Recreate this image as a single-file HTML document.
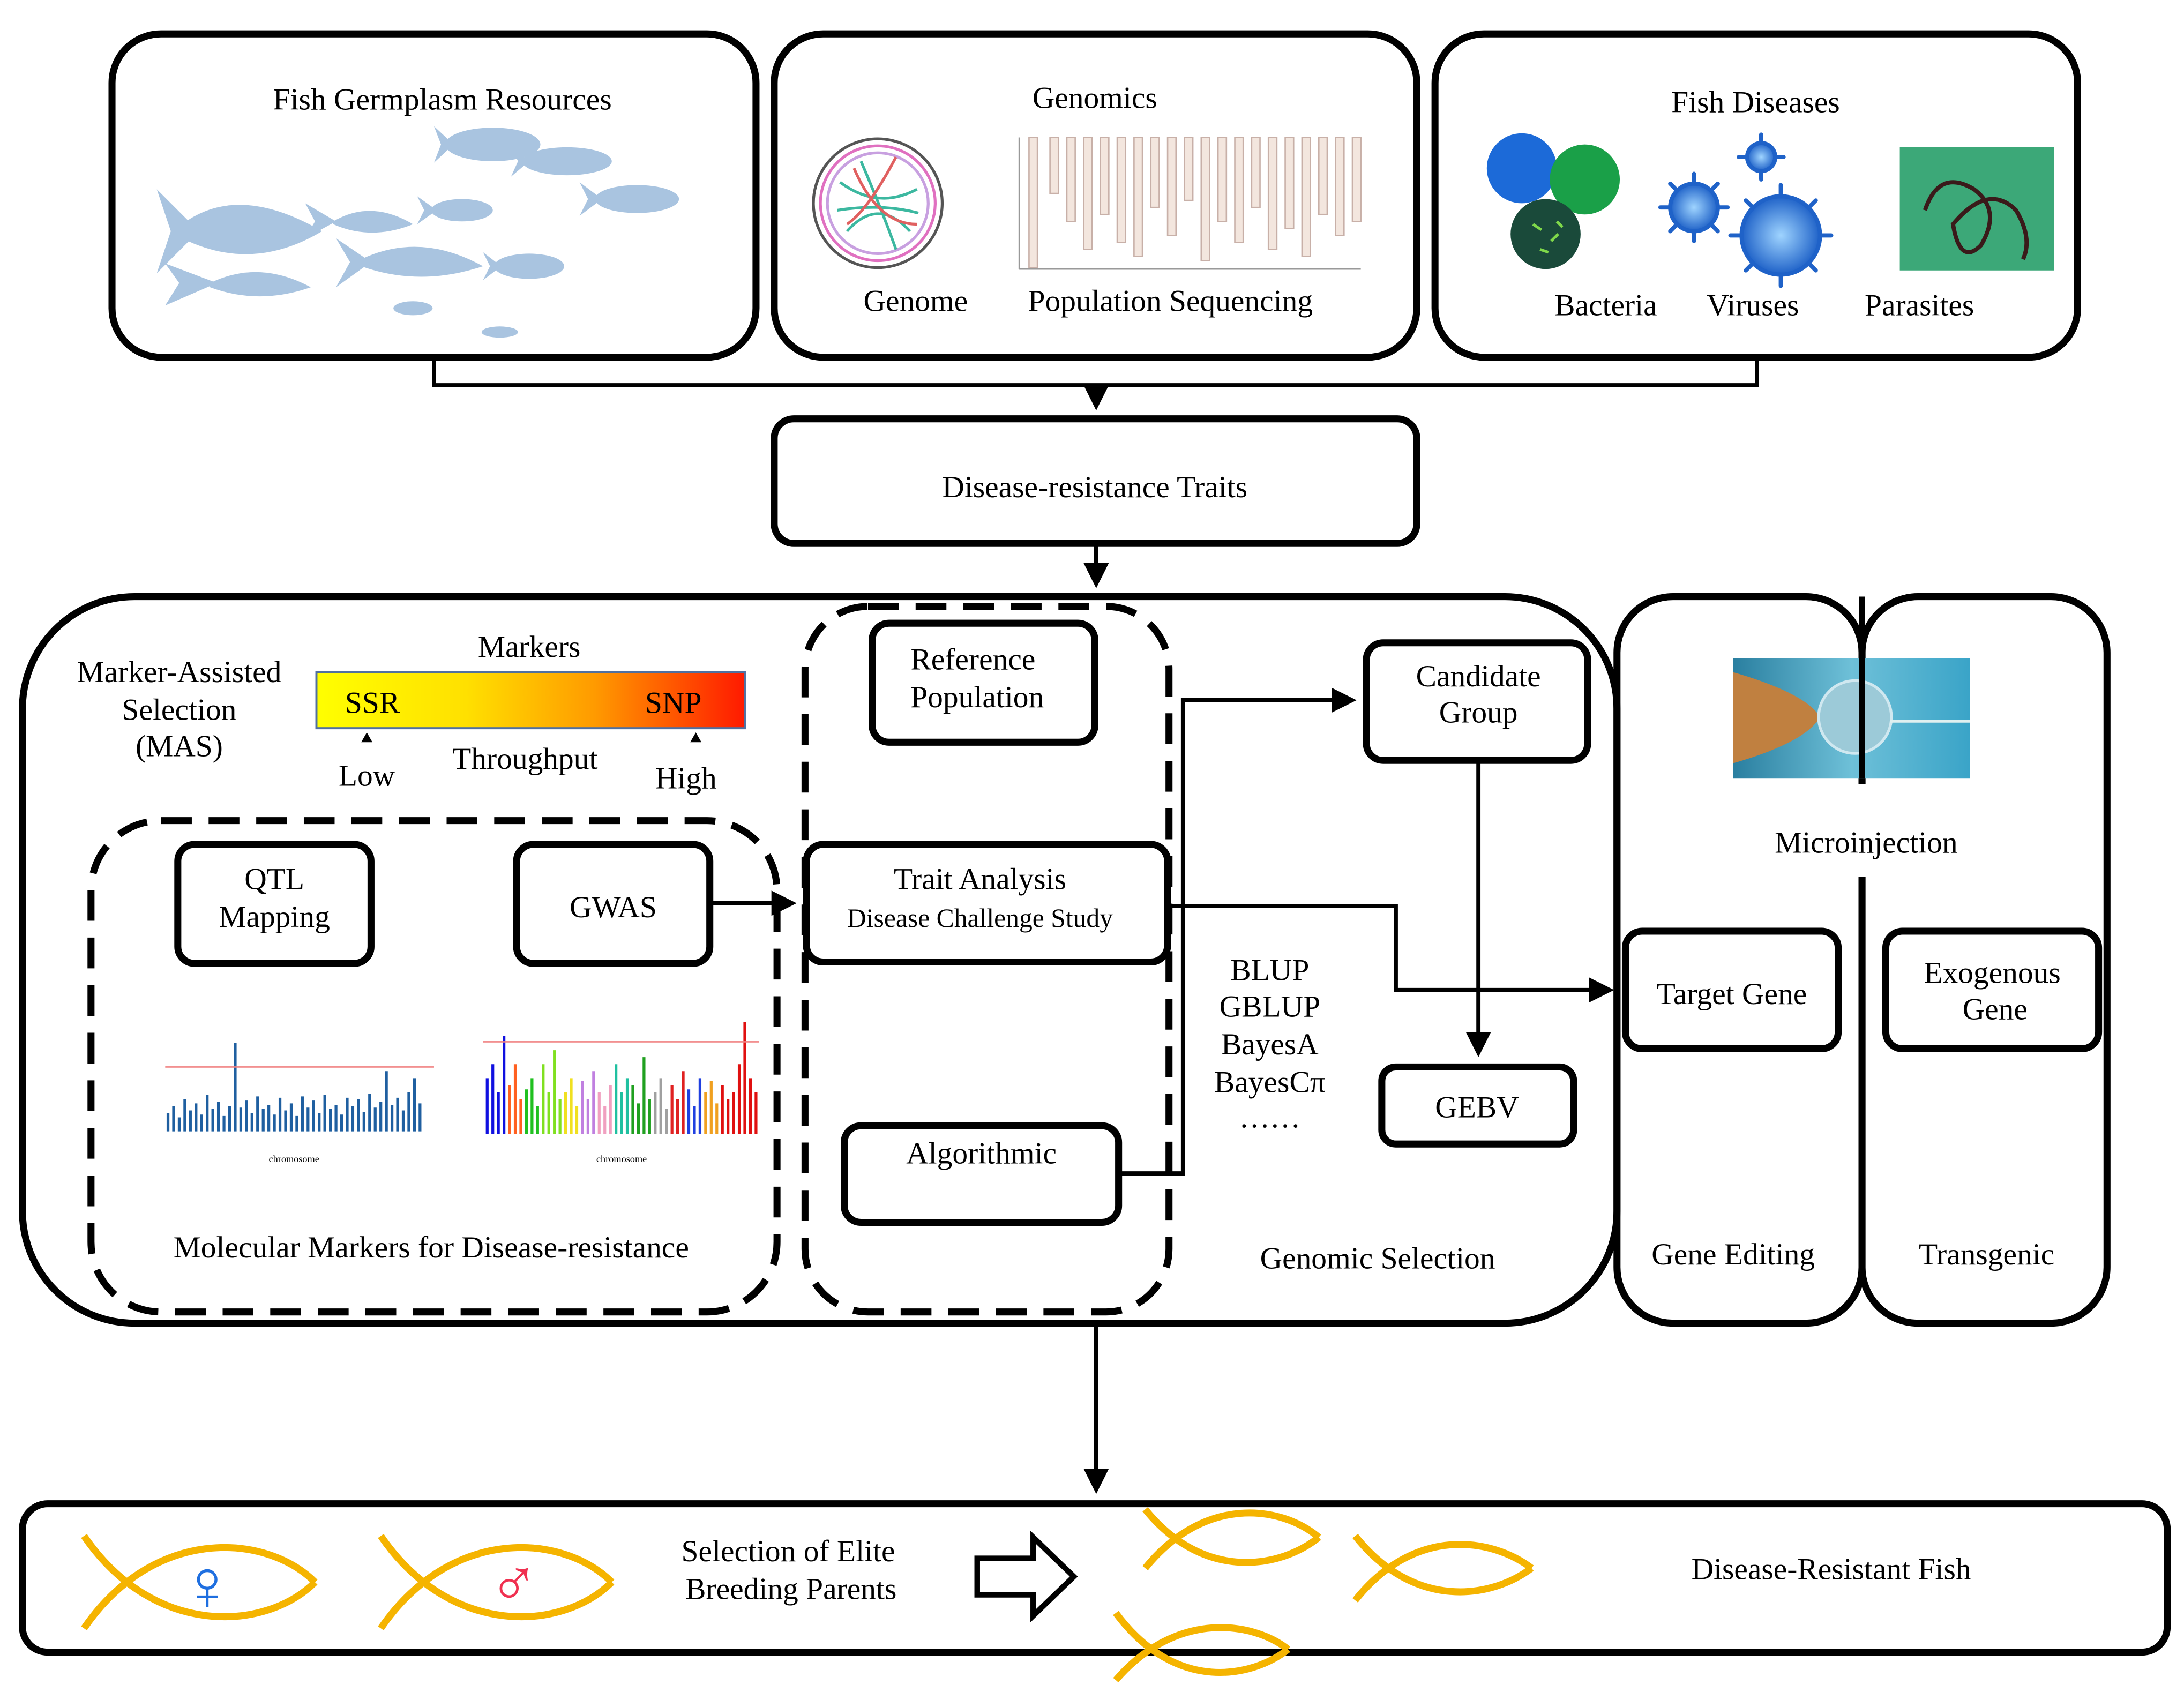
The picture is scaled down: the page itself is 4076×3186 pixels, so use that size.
<!DOCTYPE html>
<html><head><meta charset="utf-8">
<style>
html,body{margin:0;padding:0;background:#fff;}
svg{display:block;font-family:"Liberation Serif","DejaVu Serif",serif;}
text{font-family:"Liberation Serif","DejaVu Serif",serif;fill:#000;}
</style></head><body>
<svg width="4076" height="3186" viewBox="0 0 1560 1219" xmlns="http://www.w3.org/2000/svg" font-family="Liberation Serif, DejaVu Serif, serif">
<defs>
<linearGradient id="mk" x1="0" x2="1" y1="0" y2="0">
<stop offset="0" stop-color="#ffff00"/><stop offset="0.35" stop-color="#ffe000"/><stop offset="0.65" stop-color="#ff9a00"/><stop offset="1" stop-color="#ff1a00"/></linearGradient>
<marker id="ah" markerWidth="6" markerHeight="6" refX="5" refY="3" orient="auto" markerUnits="strokeWidth"><path d="M0,0 L6,3 L0,6 z" fill="#000"/></marker>
<radialGradient id="vb"><stop offset="0" stop-color="#9fd4ff"/><stop offset="1" stop-color="#1f62c8"/></radialGradient>
<linearGradient id="mi" x1="0" x2="1"><stop offset="0" stop-color="#2a7fa0"/><stop offset="0.5" stop-color="#6ec0d8"/><stop offset="1" stop-color="#3aa4c8"/></linearGradient>
</defs>
<g fill="none" stroke="#000" stroke-width="5">
<rect x="80" y="24" width="460" height="231" rx="35"/>
<rect x="553" y="24" width="459" height="231" rx="35"/>
<rect x="1025" y="24" width="459" height="231" rx="35"/>
<rect x="553" y="299" width="459" height="89" rx="14"/>
<rect x="16" y="426" width="1139" height="519" rx="80"/>
<rect x="1155" y="426" width="175" height="519" rx="40"/>
<rect x="1330" y="426" width="175" height="519" rx="40"/>
<rect x="16" y="1074" width="1532" height="106" rx="18"/>
<rect x="127" y="603" width="138" height="85" rx="12"/>
<rect x="369" y="603" width="138" height="85" rx="12"/>
<rect x="623" y="445" width="159" height="85" rx="12"/>
<rect x="576" y="603" width="258" height="84" rx="12"/>
<rect x="603" y="804" width="196" height="69" rx="12"/>
<rect x="976" y="459" width="158" height="84" rx="12"/>
<rect x="987" y="762" width="137" height="55" rx="10"/>
<rect x="1161" y="665" width="152" height="84" rx="12"/>
<rect x="1347" y="665" width="152" height="84" rx="12"/>
<g stroke-dasharray="22,12">
<rect x="65" y="586" width="490" height="351" rx="50"/>
<rect x="575" y="433" width="260" height="504" rx="45"/>
</g>
</g>
<g fill="none" stroke="#000" stroke-width="3">
<path d="M310,255 V275 H1255 V255"/>
<path d="M783,275 V290" marker-end="url(#ah)"/>
<path d="M783,388 V417" marker-end="url(#ah)"/>
<path d="M507,645 H566" marker-end="url(#ah)"/>
<path d="M799,838 H845 V500 H966" marker-end="url(#ah)"/>
<path d="M834,647 H997 V707 H1150" marker-end="url(#ah)"/>
<path d="M1056,543 V752" marker-end="url(#ah)"/>
<path d="M783,945 V1064" marker-end="url(#ah)"/>
</g>
<!-- top box contents -->
<text x="316" y="78" font-size="22" text-anchor="middle">Fish Germplasm Resources</text>
<g fill="#a9c4e0">
<path d="M130,160 Q170,130 230,165 Q180,195 130,170 z"/><path d="M142,165 L112,135 L122,165 L112,195 z"/>
<path d="M150,202 Q185,185 222,205 Q185,218 150,205 z"/><path d="M155,202 L118,188 L128,202 L118,218 z"/>
<path d="M238,158 Q265,142 295,160 Q265,172 238,160 z"/><path d="M240,158 L218,145 L225,158 L218,170 z"/>
<path d="M258,185 Q300,165 345,190 Q300,205 258,190 z"/><path d="M265,187 L240,170 L250,187 L240,205 z"/>
<ellipse cx="330" cy="150" rx="22" ry="8"/><path d="M312,150 L298,140 L303,150 L298,160 z"/>
<ellipse cx="352" cy="103" rx="34" ry="12"/><path d="M324,103 L310,90 L315,103 L310,116 z"/>
<ellipse cx="405" cy="115" rx="32" ry="10"/><path d="M378,115 L365,104 L370,115 L365,126 z"/>
<ellipse cx="455" cy="142" rx="30" ry="10"/><path d="M430,142 L414,130 L420,142 L414,154 z"/>
<ellipse cx="378" cy="190" rx="25" ry="9"/><path d="M358,190 L345,180 L350,190 L345,200 z"/>
<ellipse cx="295" cy="220" rx="14" ry="5"/><ellipse cx="357" cy="237" rx="13" ry="4"/>
</g>
<text x="782" y="77" font-size="22" text-anchor="middle">Genomics</text>
<g fill="none" stroke-width="2">
<circle cx="627" cy="145" r="46" stroke="#555"/><circle cx="627" cy="145" r="41" stroke="#e070c0"/>
<circle cx="627" cy="145" r="36" stroke="#c8a0e0"/>
<path d="M600,130 Q627,150 655,135 M605,165 Q627,140 650,165 M615,115 Q630,150 640,178 M598,150 Q630,145 656,152" stroke="#3cb8a0"/>
<path d="M610,120 Q627,160 655,160 M640,112 Q620,150 605,160" stroke="#e06060"/>
</g>
<g fill="#f3e6de" stroke="#c8b0a8" stroke-width="1">
<rect x="735" y="98" width="6" height="93"/><rect x="750" y="98" width="6" height="40"/><rect x="762" y="98" width="6" height="60"/><rect x="774" y="98" width="6" height="80"/><rect x="786" y="98" width="6" height="55"/><rect x="798" y="98" width="6" height="75"/><rect x="810" y="98" width="6" height="85"/><rect x="822" y="98" width="6" height="50"/><rect x="834" y="98" width="6" height="70"/><rect x="846" y="98" width="6" height="45"/><rect x="858" y="98" width="6" height="88"/><rect x="870" y="98" width="6" height="60"/><rect x="882" y="98" width="6" height="75"/><rect x="894" y="98" width="6" height="50"/><rect x="906" y="98" width="6" height="80"/><rect x="918" y="98" width="6" height="65"/><rect x="930" y="98" width="6" height="85"/><rect x="942" y="98" width="6" height="55"/><rect x="954" y="98" width="6" height="70"/><rect x="966" y="98" width="6" height="60"/>
</g>
<path d="M728,192 H972 M728,98 V192" stroke="#999" stroke-width="1"/>
<text x="654" y="222" font-size="22" text-anchor="middle">Genome</text>
<text x="836" y="222" font-size="22" text-anchor="middle">Population Sequencing</text>
<text x="1254" y="80" font-size="22" text-anchor="middle">Fish Diseases</text>
<circle cx="1087" cy="120" r="25" fill="#1c6ad8"/><circle cx="1132" cy="128" r="25" fill="#1aa048"/><circle cx="1104" cy="167" r="25" fill="#1a4a3a"/>
<g stroke="#7fd84a" stroke-width="2"><path d="M1095,160 l6,4 M1108,172 l5,-5 M1100,178 l6,2 M1112,158 l4,4"/></g>
<g stroke="#1f62c8" stroke-width="3" stroke-linecap="round">
<path d="M1210,124 V131 M1210,165 V172 M1186,148 H1193 M1227,148 H1234 M1193,131 l5,5 M1227,131 l-5,5 M1193,165 l5,-5 M1227,165 l-5,-5"/>
<path d="M1258,96 V102 M1258,122 V128 M1242,112 H1248 M1268,112 H1274"/>
<path d="M1272,132 V140 M1272,196 V204 M1236,168 H1244 M1300,168 H1308 M1247,143 l6,6 M1297,143 l-6,6 M1247,193 l6,-6 M1297,193 l-6,-6"/>
<circle cx="1210" cy="148" r="17" fill="url(#vb)"/><circle cx="1258" cy="112" r="10" fill="url(#vb)"/><circle cx="1272" cy="168" r="28" fill="url(#vb)"/>
</g>
<rect x="1357" y="105" width="110" height="88" fill="#3ca878"/>
<path d="M1375,150 Q1385,120 1410,135 Q1430,150 1415,175 Q1400,190 1395,160 Q1420,130 1440,150 Q1452,170 1445,185" stroke="#3a1a1a" stroke-width="3" fill="none"/>
<text x="1147" y="225" font-size="22" text-anchor="middle">Bacteria</text>
<text x="1252" y="225" font-size="22" text-anchor="middle">Viruses</text>
<text x="1371" y="225" font-size="22" text-anchor="middle">Parasites</text>
<text x="782" y="355" font-size="22" text-anchor="middle">Disease-resistance  Traits</text>
<!-- MAS -->
<text x="128" y="487" font-size="22" text-anchor="middle">Marker-Assisted</text>
<text x="128" y="514" font-size="22" text-anchor="middle">Selection</text>
<text x="128" y="540" font-size="22" text-anchor="middle">(MAS)</text>
<text x="378" y="469" font-size="22" text-anchor="middle">Markers</text>
<rect x="226" y="480" width="306" height="40" fill="url(#mk)" stroke="#5070a0" stroke-width="1.5"/>
<text x="266" y="509" font-size="22" text-anchor="middle">SSR</text>
<text x="481" y="509" font-size="22" text-anchor="middle">SNP</text>
<path d="M258,530 L262,523 L266,530 z M493,530 L497,523 L501,530 z" fill="#000"/>
<text x="262" y="561" font-size="22" text-anchor="middle">Low</text>
<text x="375" y="549" font-size="22" text-anchor="middle">Throughput</text>
<text x="490" y="563" font-size="22" text-anchor="middle">High</text>
<text x="196" y="635" font-size="22" text-anchor="middle">QTL</text>
<text x="196" y="662" font-size="22" text-anchor="middle">Mapping</text>
<text x="438" y="655" font-size="22" text-anchor="middle">GWAS</text>
<!-- manhattan plots -->
<g stroke-width="2">
<path d="M120,808 V795 M124,808 V790 M128,808 V798 M132,808 V785 M136,808 V793 M140,808 V788 M144,808 V796 M148,808 V782 M152,808 V792 M156,808 V787 M160,808 V797 M164,808 V790 M168,808 V745 M172,808 V791 M176,808 V786 M180,808 V795 M184,808 V783 M188,808 V792 M192,808 V789 M196,808 V796 M200,808 V784 M204,808 V793 M208,808 V788 M212,808 V797 M216,808 V783 M220,808 V791 M224,808 V786 M228,808 V795 M232,808 V782 M236,808 V792 M240,808 V789 M244,808 V796 M248,808 V784 M252,808 V790 M256,808 V785 M260,808 V794 M264,808 V781 M268,808 V791 M272,808 V787 M276,808 V765 M280,808 V789 M284,808 V784 M288,808 V793 M292,808 V780 M296,808 V770 M300,808 V788" stroke="#1f5fa0"/>
<path d="M118,762 H310" stroke="#f08080" stroke-width="1"/>
<path d="M348,810 V770 M352,810 V760 M356,810 V780 M360,810 V740" stroke="#1010e0"/>
<path d="M364,810 V775 M368,810 V760 M372,810 V785" stroke="#ff6020"/>
<path d="M376,810 V778 M380,810 V770 M384,810 V790" stroke="#20c020"/>
<path d="M388,810 V760 M392,810 V780 M396,810 V750 M400,810 V785" stroke="#80e020"/>
<path d="M404,810 V780 M408,810 V770 M412,810 V790" stroke="#f0e020"/>
<path d="M416,810 V772 M420,810 V785 M424,810 V765" stroke="#c080e0"/>
<path d="M428,810 V780 M432,810 V790 M436,810 V775" stroke="#f0a0c0"/>
<path d="M440,810 V760 M444,810 V780 M448,810 V770" stroke="#20c0a0"/>
<path d="M452,810 V775 M456,810 V788 M460,810 V755 M464,810 V785" stroke="#20a020"/>
<path d="M468,810 V780 M472,810 V770 M476,810 V792" stroke="#a0a0a0"/>
<path d="M480,810 V775 M484,810 V785 M488,810 V765" stroke="#e02020"/>
<path d="M492,810 V778 M496,810 V790 M500,810 V770" stroke="#2040e0"/>
<path d="M504,810 V780 M508,810 V772 M512,810 V788" stroke="#f0a020"/>
<path d="M516,810 V775 M520,810 V785 M524,810 V780 M528,810 V760 M532,810 V730 M536,810 V770 M540,810 V780" stroke="#e01010"/>
<path d="M345,744 H542" stroke="#f08080" stroke-width="1"/>
</g>
<text x="210" y="830" font-size="7" text-anchor="middle">chromosome</text>
<text x="444" y="830" font-size="7" text-anchor="middle">chromosome</text>
<text x="308" y="898" font-size="22" text-anchor="middle">Molecular Markers for Disease-resistance</text>
<!-- middle -->
<text x="695" y="478" font-size="22" text-anchor="middle">Reference</text>
<text x="698" y="505" font-size="22" text-anchor="middle">Population</text>
<text x="700" y="635" font-size="22" text-anchor="middle">Trait Analysis</text>
<text x="700" y="662" font-size="19" text-anchor="middle">Disease Challenge Study</text>
<text x="701" y="831" font-size="22" text-anchor="middle">Algorithmic</text>
<text x="907" y="700" font-size="22" text-anchor="middle">BLUP</text>
<text x="907" y="726" font-size="22" text-anchor="middle">GBLUP</text>
<text x="907" y="753" font-size="22" text-anchor="middle">BayesA</text>
<text x="907" y="780" font-size="22" text-anchor="middle">BayesCπ</text>
<text x="907" y="805" font-size="22" text-anchor="middle">……</text>
<text x="1056" y="490" font-size="22" text-anchor="middle">Candidate</text>
<text x="1056" y="516" font-size="22" text-anchor="middle">Group</text>
<text x="1055" y="798" font-size="22" text-anchor="middle">GEBV</text>
<text x="984" y="906" font-size="22" text-anchor="middle">Genomic Selection</text>
<!-- right -->
<rect x="1240" y="560" width="185" height="66" fill="#fff"/>
<rect x="1238" y="470" width="169" height="86" fill="url(#mi)"/>
<path d="M1238,480 Q1290,495 1300,512 Q1290,530 1238,545 z" fill="#c08040"/>
<circle cx="1325" cy="512" r="26" fill="#9ccad8" stroke="#d0e8f0" stroke-width="2"/>
<path d="M1350,515 H1407" stroke="#e0f0f0" stroke-width="2"/>
<path d="M1330,426 V556" stroke="#000" stroke-width="4"/>
<text x="1333" y="609" font-size="22" text-anchor="middle">Microinjection</text>
<text x="1237" y="717" font-size="22" text-anchor="middle">Target Gene</text>
<text x="1423" y="702" font-size="22" text-anchor="middle">Exogenous</text>
<text x="1425" y="728" font-size="22" text-anchor="middle">Gene</text>
<text x="1238" y="903" font-size="22" text-anchor="middle">Gene Editing</text>
<text x="1419" y="903" font-size="22" text-anchor="middle">Transgenic</text>
<!-- bottom -->
<g fill="none" stroke="#f5b400" stroke-width="5">
<path d="M60,1097 C110,1170 190,1165 225,1130 M60,1163 C110,1090 190,1095 225,1130"/>
<path d="M272,1097 C322,1170 402,1165 437,1130 M272,1163 C322,1090 402,1095 437,1130"/>
<path d="M818,1078 C860,1130 915,1120 942,1098 M818,1120 C860,1068 915,1075 942,1098"/>
<path d="M968,1097 C1010,1150 1065,1142 1094,1120 M968,1143 C1010,1090 1065,1098 1094,1120"/>
<path d="M797,1152 C840,1210 895,1198 920,1178 M797,1200 C840,1150 895,1158 920,1178"/>
</g>
<text x="148" y="1150" font-size="52" text-anchor="middle" style="fill:#1f6fe0">♀</text>
<text x="367" y="1147" font-size="48" text-anchor="middle" style="fill:#f03050">♂</text>
<text x="563" y="1115" font-size="22" text-anchor="middle">Selection of Elite</text>
<text x="565" y="1142" font-size="22" text-anchor="middle">Breeding Parents</text>
<path d="M698,1113 H738 V1098 L767,1126 L738,1154 V1139 H698 z" fill="#fff" stroke="#000" stroke-width="4"/>
<text x="1308" y="1128" font-size="22" text-anchor="middle">Disease-Resistant Fish</text>
</svg>
</body></html>
